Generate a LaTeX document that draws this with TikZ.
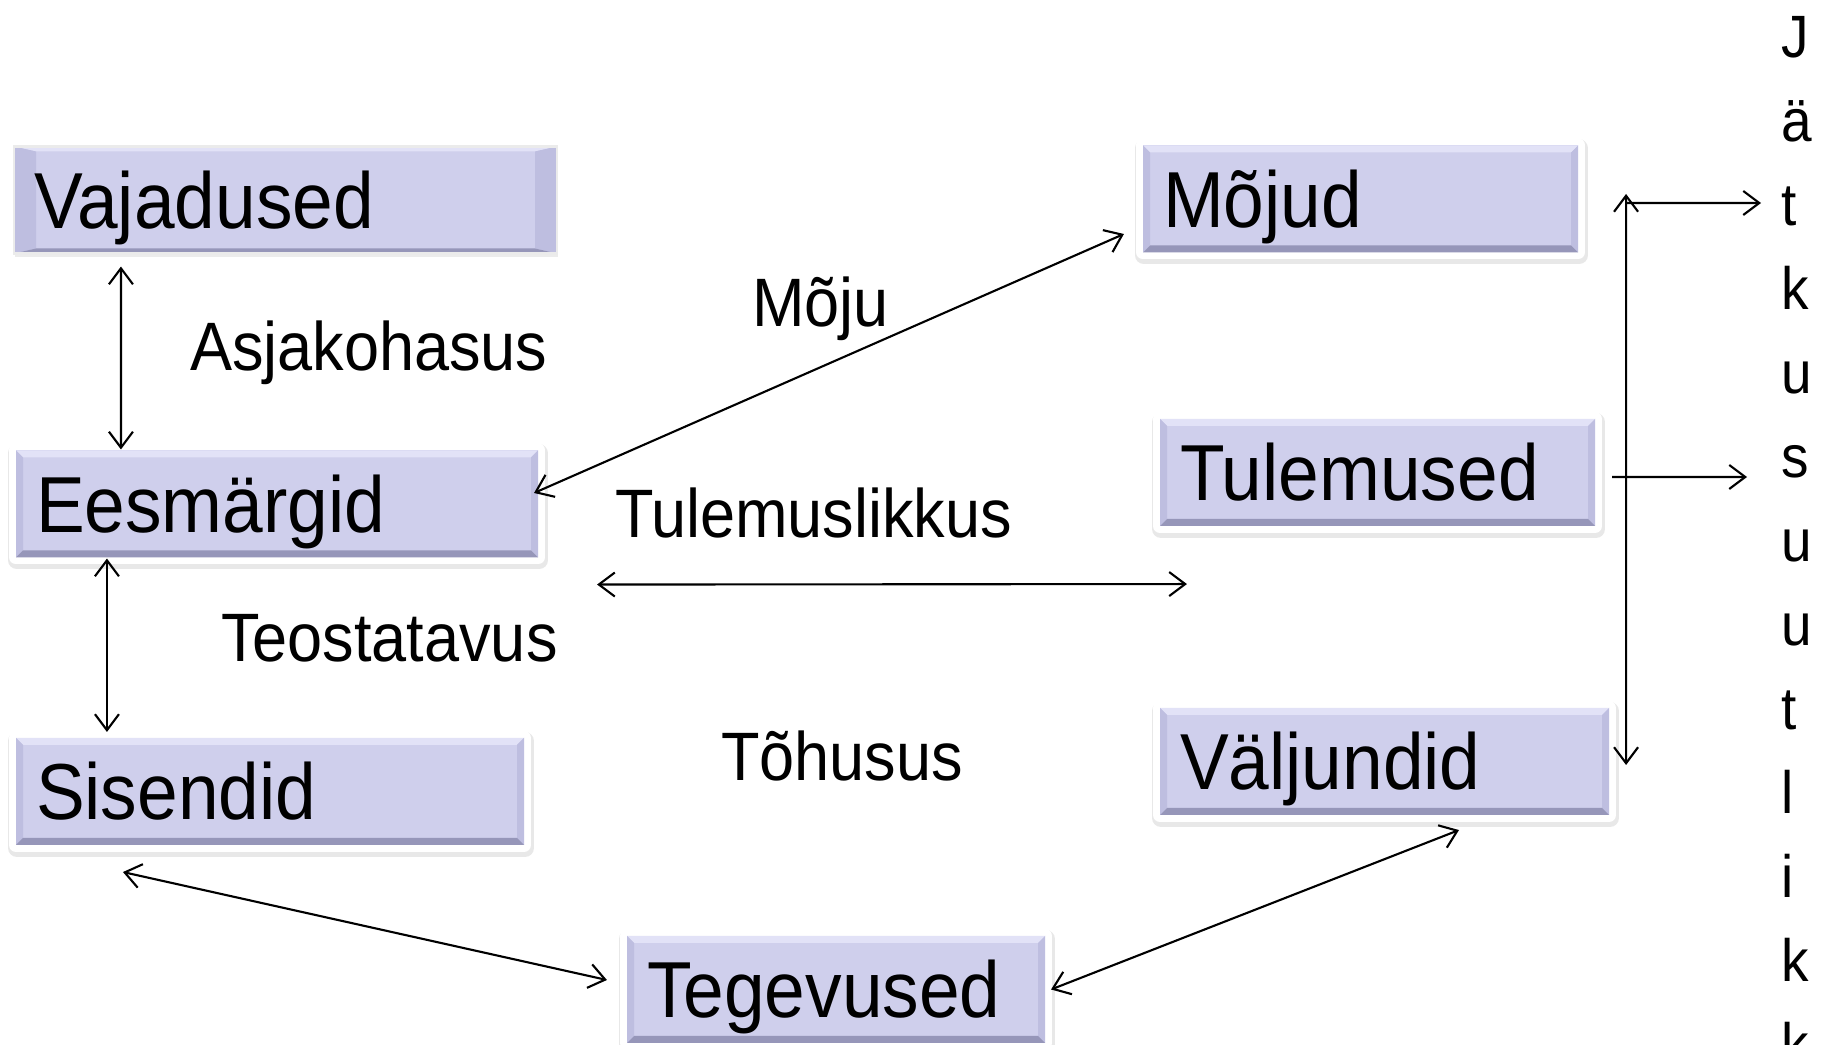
\documentclass[tikz,border=0pt]{standalone}
\usepackage{fontspec}
\setmainfont{Liberation Sans}[FakeStretch=0.92]
\usetikzlibrary{calc,arrows.meta,shadows}

\definecolor{lilafill}{RGB}{207,207,236}
\definecolor{lilatop}{RGB}{226,226,247}
\definecolor{lilaside}{RGB}{190,190,224}
\definecolor{lilabot}{RGB}{150,150,185}

\tikzset{
  bevel/.style 2 args={path picture={
    \coordinate (pnw) at (path picture bounding box.north west);
    \coordinate (pne) at (path picture bounding box.north east);
    \coordinate (psw) at (path picture bounding box.south west);
    \coordinate (pse) at (path picture bounding box.south east);
    \fill [lilatop] (pnw) -- (pne) -- ([shift={(-#1,-#2)}]pne) -- ([shift={(#1,-#2)}]pnw) -- cycle;
    \fill [lilaside] (pnw) -- ([shift={(#1,-#2)}]pnw) -- ([shift={(#1,#2)}]psw) -- (psw) -- cycle;
    \fill [lilaside] (pne) -- ([shift={(-#1,-#2)}]pne) -- ([shift={(-#1,#2)}]pse) -- (pse) -- cycle;
    \fill [lilabot] (psw) -- (pse) -- ([shift={(-#1,#2)}]pse) -- ([shift={(#1,#2)}]psw) -- cycle;
  }},
  kast/.style={fill=lilafill, inner xsep=0.2cm, inner ysep=0pt, minimum height=1.07cm,
    text height=0.82cm, text depth=0.25cm, align=left,
    font=\fontsize{22.6}{26}\selectfont},
  raam/.style={kast,
    drop shadow={shadow xshift=0.01cm, shadow yshift=-0.03cm, opacity=0.15,
      fill=black!60, draw=black!60, line width=0.18cm, line join=round},
    preaction={draw=white, line width=0.14cm, line join=round},
    bevel={0.07}{0.07}},
  vkast/.style={kast, draw=black!8, bevel={0.22}{0.05},
    drop shadow={shadow xshift=0.01cm, shadow yshift=-0.04cm, opacity=0.15}},
  silt/.style={anchor=base west, inner sep=0pt, font=\fontsize{19.5}{23}\selectfont},
}

\begin{document}
\begin{tikzpicture}[line width=0.6pt, >={Straight Barb[length=1.6mm,width=2.4mm]}]
  \useasboundingbox (0,0) rectangle (18.24,10.45);

  % left column
  \node [vkast, text width=5.03cm] (vaj) at (2.855,8.45) {Vajadused};
  \node [raam, text width=4.82cm] (ees) at (2.77,5.41) {Eesmärgid};
  \node [raam, text width=4.68cm] (sis) at (2.70,2.535) {Sisendid};
  % right column
  \node [raam, text width=3.95cm] (moj) at (13.605,8.46) {Mõjud};
  \node [raam, text width=3.95cm] (tul) at (13.775,5.725) {Tulemused};
  \node [raam, text width=4.09cm] (val) at (13.845,2.835) {Väljundid};
  \node [raam, text width=3.78cm] (teg) at (8.36,0.555) {Tegevused};

  \node [silt] (asja) at (1.89,6.74) {Asjakohasus};
  \node [silt] (moju) at (7.51,7.18) {Mõju};
  \node [silt] (tulem) at (6.14,5.07) {Tulemuslikkus};
  \node [silt] (teos) at (2.20,3.83) {Teostatavus};
  \node [silt] (tohu) at (7.20,2.64) {Tõhusus};

  \draw [<->] ([shift={(1.08,-0.12)}]vaj.south west) to ([xshift=1.06cm]ees.north west);
  \draw [<->] ([xshift=0.92cm]ees.south west) to ([shift={(0.92,0.05)}]sis.north west);
  \draw [<->] ([shift={(-0.05,0.11)}]ees.east) to ([shift={(-0.18,-0.35)}]moj.west);
  \draw [<->] ([shift={(0.58,-0.26)}]ees.south east) to ([shift={(0.28,-0.57)}]tul.south west);
  \draw [<->] ([shift={(1.08,-0.26)}]sis.south west) to ([shift={(-0.19,0.095)}]teg.west);
  \draw [<->] ([xshift=0.05cm]teg.east) to ([shift={(0.745,-0.14)}]val.south);

  % Jätkusuutlikkus
  \foreach \t [count=\i] in {J,ä,t,k,u,s,u,u,t,l,i,k,k}
    \node [anchor=base west, inner sep=0pt, font=\fontsize{17}{20}\selectfont] (jat\i) at (17.80,{9.87-0.84*(\i-1)}) {\t};
  \coordinate (tipA) at (17.61,8.42);
  \coordinate (tipB) at (17.47,5.68);
  \draw [<->] ([shift={(0.47,0.05)}]moj.east) to ([shift={(0.16,-0.035)}]val.east);
  \draw [->] ([shift={(0.47,-0.04)}]moj.east) to (tipA);
  \draw [->] ([shift={(0.16,-0.045)}]tul.east) to (tipB);
\end{tikzpicture}
\end{document}
